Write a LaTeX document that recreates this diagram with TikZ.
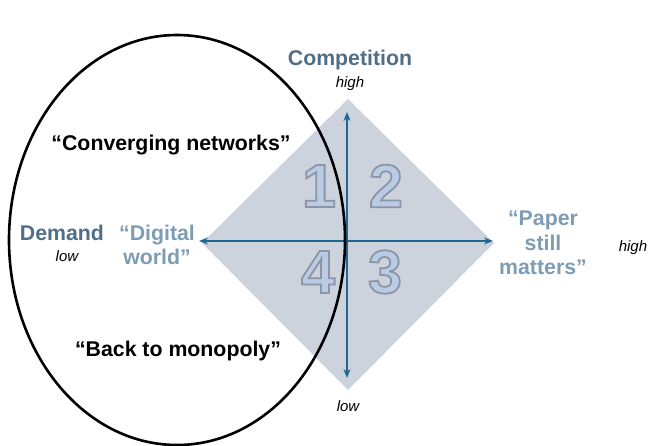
\documentclass[tikz,border=0pt]{standalone}
\usepackage{fontspec}
\setmainfont{Liberation Sans}
\usetikzlibrary{arrows.meta}
\definecolor{diamondfill}{HTML}{CDD3DD}
\definecolor{axisblue}{HTML}{1D6791}
\definecolor{titleblue}{HTML}{4F6F87}
\definecolor{scenblue}{HTML}{7E9CB4}
\definecolor{numfill}{HTML}{BACCE4}
\tikzset{
  axis/.style={draw=axisblue, line width=2pt, {Stealth[length=9pt,width=7pt]}-{Stealth[length=9pt,width=7pt]}},
  bigbold/.style={font=\fontsize{21.3}{24.5}\selectfont\bfseries, align=center, inner sep=0pt},
  axistitle/.style={bigbold, text=titleblue},
  scenario/.style={bigbold, text=scenblue},
  quote/.style={bigbold, text=black},
  small/.style={font=\fontsize{15}{17}\selectfont\itshape, inner sep=0pt},
  num/.style={font=\fontsize{61}{64}\selectfont\bfseries, inner sep=0pt, text=numfill},
}
\newcommand{\quadnum}[1]{\special{pdf:literal direct 2 Tr 1.8 w 0.55 0.58 0.66 RG}#1\special{pdf:literal direct 0 Tr}}
\begin{document}
\begin{tikzpicture}[x=1pt,y=-1pt]
\useasboundingbox (0,0) rectangle (648,445);
% diamond
\coordinate (dt) at (348,99);
\coordinate (dr) at (494,243);
\coordinate (db) at (348,390);
\coordinate (dl) at (202,243);
\fill[diamondfill] (dt) -- (dr) -- (db) -- (dl) -- cycle;
% axes
\coordinate (xl) at (199,241);
\coordinate (xr) at (493,241);
\coordinate (yt) at (347,112);
\coordinate (yb) at (347,378);
\draw[axis] (xl) -- (xr);
\draw[axis] (yt) -- (yb);
% quadrant numbers
\node[num] (n1) at (319,186) {\quadnum{1}};
\node[num] (n2) at (386,186) {\quadnum{2}};
\node[num] (n3) at (385,272) {\quadnum{3}};
\node[num] (n4) at (318,272) {\quadnum{4}};
% labels
\node[axistitle] (comp) at (350,60) {Competition};
\node[small] (chigh) at (350,84) {high};
\node[small] (clow) at (348,406) {low};
\node[axistitle] (dem) at (62,233) {Demand};
\node[small] (dlow) at (67,256) {low};
\node[small] (dhigh) at (633,248) {high};
\node[scenario] (dig) at (157,245) {“Digital\\world”};
\node[scenario] (pap) at (543,243) {“Paper\\still\\matters”};
\node[quote] (conv) at (171,145) {“Converging networks”};
\node[quote] (mono) at (178,351) {“Back to monopoly”};
% ellipse
\draw[black, line width=2.6pt] (177,240) ellipse [x radius=168, y radius=205];
\end{tikzpicture}
\end{document}
